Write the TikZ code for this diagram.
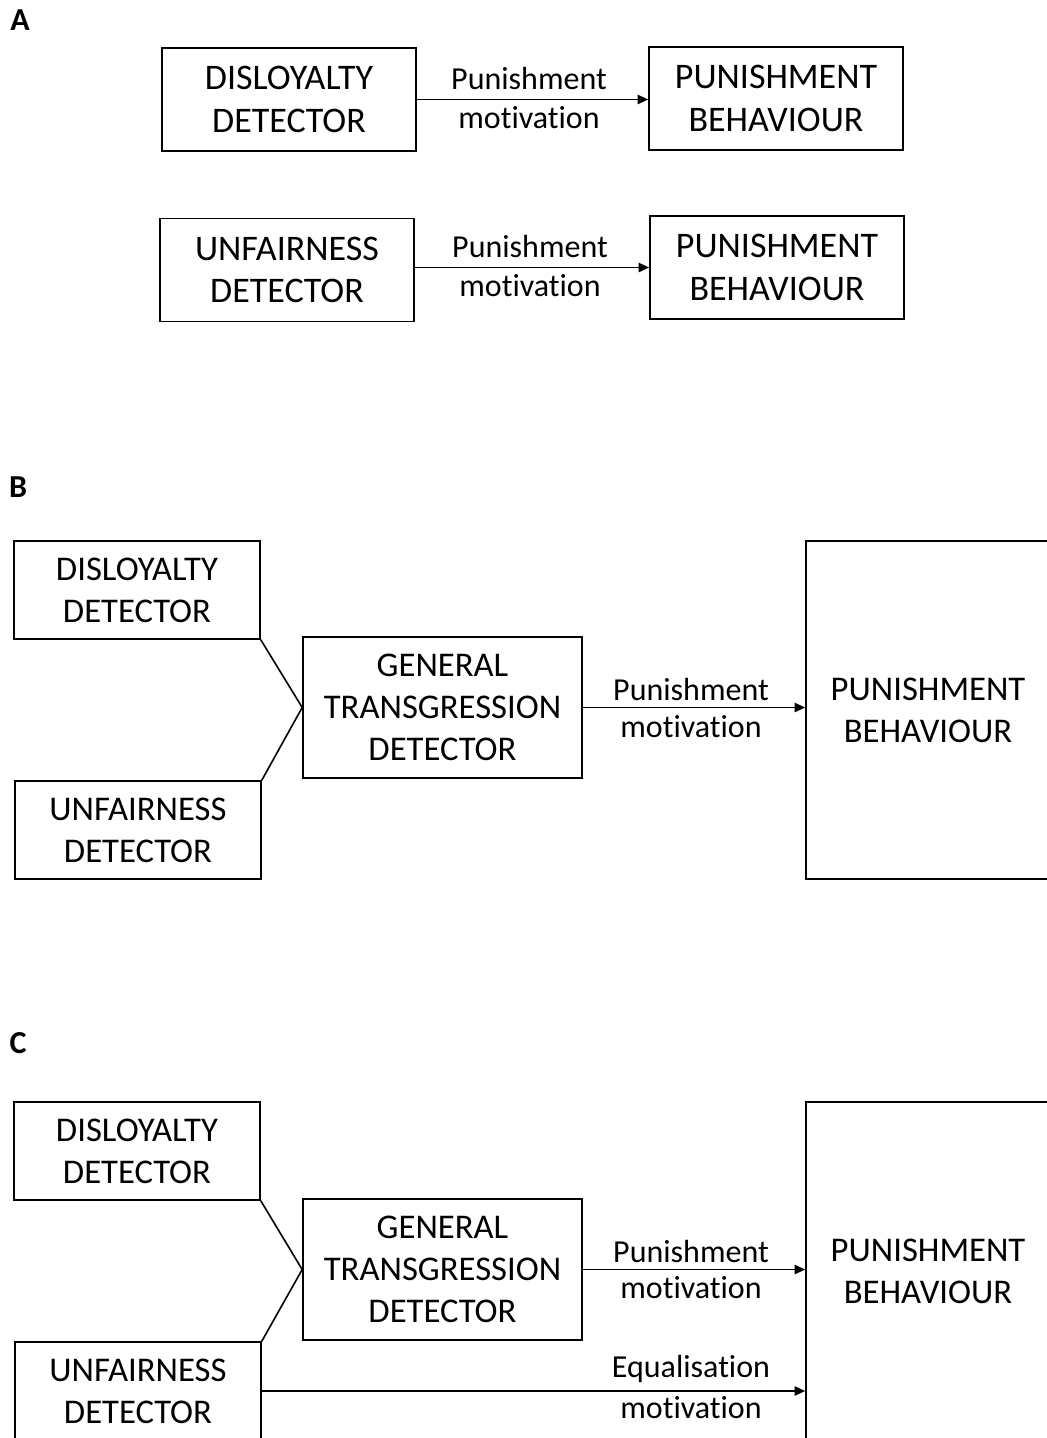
\documentclass[tikz,border=0pt]{standalone}
\usepackage{fontspec}
\setmainfont{Carlito}[Ligatures={NoCommon}]
\usetikzlibrary{arrows.meta}
\tikzset{
  box/.style={draw, line width=1.2pt, align=center, inner sep=0pt,
    font=\fontsize{26}{31.5}\selectfont},
  lbl/.style={inner sep=0pt, font=\fontsize{24}{28}\selectfont},
  panel/.style={inner sep=0pt, font=\fontsize{24}{28}\selectfont\bfseries},
  conn/.style={line width=1.2pt},
  arr/.style={line width=1.3pt, -{Triangle[length=8pt,width=7pt]}},
  abox/.style={box, minimum width=190.5pt, minimum height=77.25pt,
    font=\fontsize{27}{32}\selectfont},
  dbox/.style={box, minimum width=184.5pt, minimum height=73.5pt},
  gbox/.style={box, minimum width=209.25pt, minimum height=105.75pt},
  pbox/.style={box, minimum width=183pt, minimum height=253.5pt},
}
\begin{document}
\begin{tikzpicture}[x=0.75pt,y=-0.75pt]
\useasboundingbox (0,0) rectangle (1046,1438);
% ---------- A ----------
\node[panel] (labA) at (20,20) {A};
\node[abox] (a1d) at (289,99.5) {DISLOYALTY\\DETECTOR};
\node[abox] (a1p) at (776,98.5) {PUNISHMENT\\BEHAVIOUR};
\draw[arr] (a1d.east) -- (a1d.east -| a1p.west);
\node[lbl] (a1t) at (529,79) {Punishment};
\node[lbl] (a1b) at (529,118) {motivation};

\node[abox] (a2u) at (287,270) {UNFAIRNESS\\DETECTOR};
\node[abox] (a2p) at (777,267.5) {PUNISHMENT\\BEHAVIOUR};
\draw[arr] (a2u.east |- a2p.west) -- (a2p.west);
\node[lbl] (a2t) at (530,247) {Punishment};
\node[lbl] (a2b) at (530,286) {motivation};

% ---------- B ----------
\node[panel] (labB) at (18,487) {B};
\node[dbox] (bd) at (137,590) {DISLOYALTY\\DETECTOR};
\node[dbox] (bu) at (138,830) {UNFAIRNESS\\DETECTOR};
\node[gbox] (bg) at (442.5,707.5) {GENERAL\\TRANSGRESSION\\DETECTOR};
\node[pbox] (bp) at (928,710) {PUNISHMENT\\BEHAVIOUR};
\draw[conn] (bd.south east) -- (bg.west);
\draw[conn] (bu.north east) -- (bg.west);
\draw[arr] (bg.east) -- (bg.east -| bp.west);
\node[lbl] (bt) at (691,689) {Punishment};
\node[lbl] (bb) at (691,727) {motivation};

% ---------- C ----------
\node[panel] (labC) at (18,1043) {C};
\node[dbox] (cd) at (137,1151) {DISLOYALTY\\DETECTOR};
\node[dbox] (cu) at (138,1391) {UNFAIRNESS\\DETECTOR};
\node[gbox] (cg) at (442.5,1269.5) {GENERAL\\TRANSGRESSION\\DETECTOR};
\node[pbox] (cp) at (928,1271) {PUNISHMENT\\BEHAVIOUR};
\draw[conn] (cd.south east) -- (cg.west);
\draw[conn] (cu.north east) -- (cg.west);
\draw[arr] (cg.east) -- (cg.east -| cp.west);
\node[lbl] (ct) at (691,1251) {Punishment};
\node[lbl] (cb) at (691,1288) {motivation};
\draw[arr] (cu.east) -- (cu.east -| cp.west);
\node[lbl] (ce) at (691,1369) {Equalisation};
\node[lbl] (cm) at (691,1408) {motivation};
\end{tikzpicture}
\end{document}
